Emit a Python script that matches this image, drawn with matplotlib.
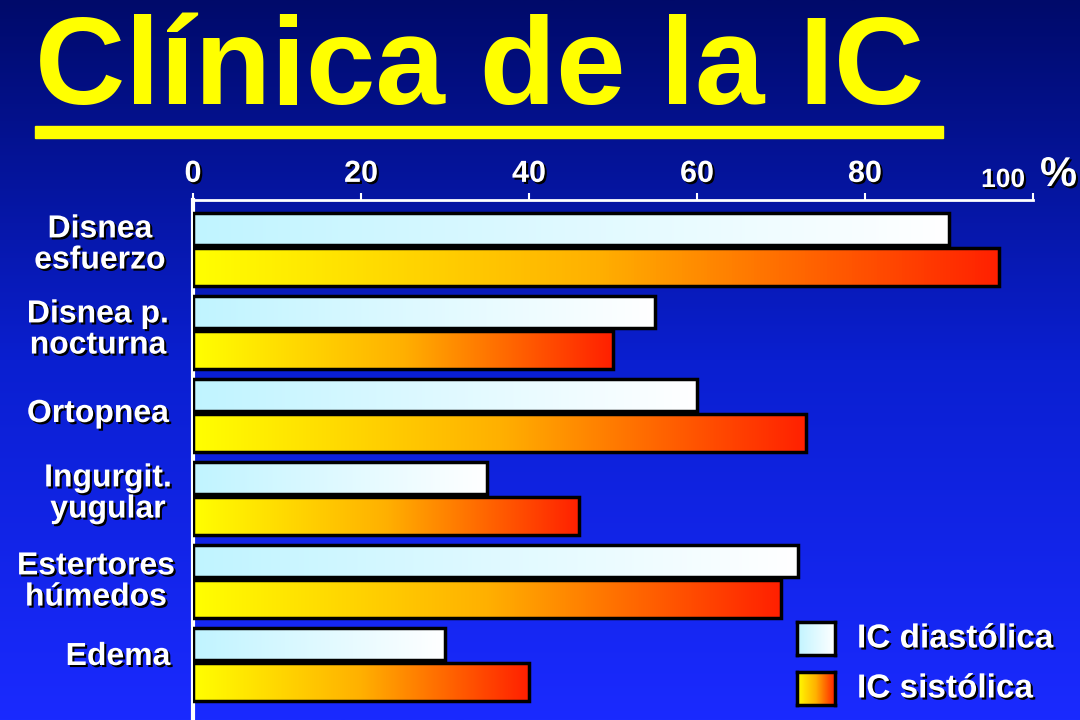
import numpy as np
import matplotlib
matplotlib.use("Agg")
import matplotlib.pyplot as plt
from matplotlib.colors import LinearSegmentedColormap
import matplotlib.patheffects as pe

categories = ["Disnea\nesfuerzo", "Disnea p.\nnocturna", "Ortopnea", "Ingurgit.\nyugular", "Estertores\nhúmedos", "Edema"]
diastolica = [90, 55, 60, 35, 72, 30]
sistolica = [96, 50, 73, 46, 70, 40]
ticks = [0, 20, 40, 60, 80, 100]

W, H = 1080, 720
fig = plt.figure(figsize=(10.8, 7.2), dpi=100)
FONT = "Liberation Sans"
shadow = [pe.withSimplePatchShadow(offset=(1.5, -1.5), shadow_rgbFace="black", alpha=1)]

bg = fig.add_axes([0, 0, 1, 1])
grad = np.linspace(0, 1, 256).reshape(-1, 1)
bgcmap = LinearSegmentedColormap.from_list("bg", ["#000a6a", "#0a1fd0", "#1a2aff"])
bg.imshow(grad, aspect="auto", cmap=bgcmap, extent=[0, 1, 0, 1], origin="upper")
bg.set_axis_off()
bg.set_xlim(0, 1); bg.set_ylim(0, 1)

fig.text(35 / W, 1 - 72 / H, "Clínica de la IC", color="#ffff00", fontsize=90,
         fontweight="bold", family=FONT, va="center", ha="left")
bg.add_patch(plt.Rectangle((35 / W, 1 - 138 / H), (943 - 35) / W, 12 / H, color="#ffff00"))

x0, x100 = 193, 1033
ax = fig.add_axes([x0 / W, 0, (x100 - x0) / W, 520 / H])
ax.patch.set_alpha(0)
for s in ["right", "bottom"]:
    ax.spines[s].set_visible(False)
ax.spines["top"].set_color("white"); ax.spines["top"].set_linewidth(2)
ax.spines["left"].set_color("white"); ax.spines["left"].set_linewidth(3)
ax.xaxis.tick_top()
ax.set_xticks(ticks)
ax.set_xticklabels([str(t) if t < 100 else "" for t in ticks], color="white", fontsize=22,
                   fontweight="bold", family=FONT)
ax.tick_params(axis="x", colors="white", length=5, width=1.5, pad=3)
for lbl in ax.get_xticklabels():
    lbl.set_path_effects(shadow)
ax.set_yticks([])
fig.text(1003 / W, 1 - 180 / H, "100", color="white", fontsize=19, fontweight="bold", family=FONT,
         ha="center", va="center", path_effects=shadow)
fig.text(1040 / W, 1 - 175 / H, "%", color="white", fontsize=30, fontweight="bold", family=FONT,
         va="center", path_effects=shadow)

cm_d = LinearSegmentedColormap.from_list("d", ["#c0f4ff", "#ffffff"])
cm_s = LinearSegmentedColormap.from_list("s", ["#ffff00", "#ffb000", "#ff2000"])
hgrad = np.linspace(0, 1, 256).reshape(1, -1)

def gbar(y, h, v, cmap):
    r = ax.barh(y, v, height=h, left=0, facecolor="none", edgecolor="black", linewidth=2.5, zorder=3)[0]
    im = ax.imshow(hgrad, aspect="auto", cmap=cmap, extent=[0, v, y + h / 2, y - h / 2], zorder=2)
    im.set_clip_path(r)

for i, (d, s) in enumerate(zip(diastolica, sistolica)):
    base = 83 * i
    gbar(base + 29, 32, d, cm_d)
    gbar(base + 67, 38, s, cm_s)
ax.set_xlim(0, 100); ax.set_ylim(520, 0)

label_pos = [(100, 245), (98, 330), (98, 414), (108, 494), (96, 582), (118, 657)]
for name, (px, py) in zip(categories, label_pos):
    fig.text(px / W, 1 - py / H, name, color="white", fontsize=23, fontweight="bold", family=FONT,
             ha="center", va="center", linespacing=1.05, path_effects=shadow)

for (yt, cmap, txt) in [(622, cm_d, "IC diastólica"), (672, cm_s, "IC sistólica")]:
    lx = bg.inset_axes([797 / W, 1 - (yt + 33) / H, 38 / W, 33 / H])
    lx.imshow(hgrad, aspect="auto", cmap=cmap)
    lx.set_xticks([]); lx.set_yticks([])
    for s in lx.spines.values():
        s.set_linewidth(2.5); s.set_color("black")
    fig.text(857 / W, 1 - (yt + 17) / H, txt, color="white", fontsize=24, fontweight="bold",
             family=FONT, va="center", path_effects=shadow)

fig.savefig("out.png", dpi=100)
